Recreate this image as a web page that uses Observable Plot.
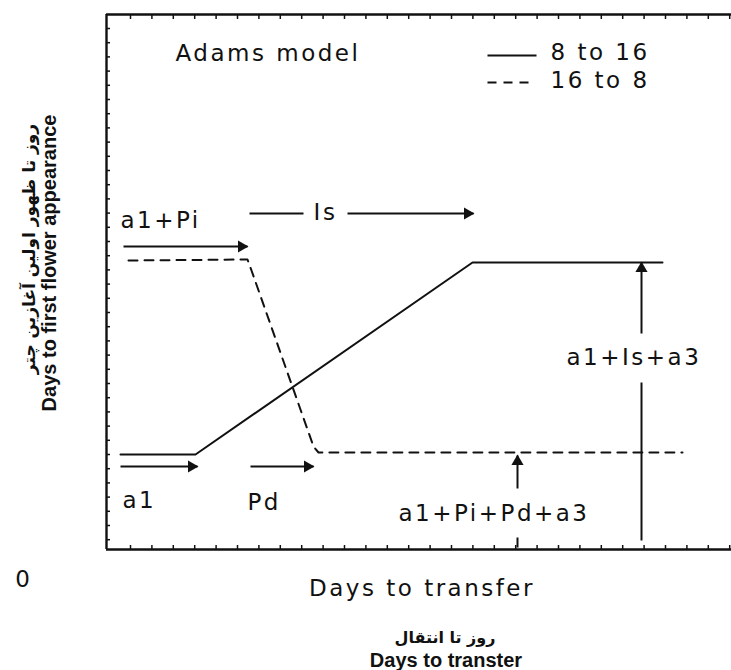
<!DOCTYPE html>
<html><head><meta charset="utf-8">
<script src="https://cdn.jsdelivr.net/npm/d3@7"></script>
<script src="https://cdn.jsdelivr.net/npm/@observablehq/plot@0.6"></script>
<style>
body{margin:0;background:#fff;}
g[aria-description="spaced"] text{letter-spacing:2.5px;}
</style></head><body><div id="chart"></div>
<script>
// Series (schematic)
const seriesNames = ["8 to 16", "16 to 8"];
const solidX = [2.8, 17.8, 73.2, 111.2];
const solidY = [19, 19, 57.4, 57.4];
const dashedX = [4.4, 28.2, 29, 41.4, 42.4, 115.2];
const dashedY = [57.8, 58, 55.8, 20.6, 19.4, 19.4];

// Horizontal arrows
const hArrowNames = ["a1+Pi", "Is", "a1", "Pd"];
const hArrowX1 = [3.4, 48.2, 2.8, 28.8];
const hArrowX2 = [28.2, 73.4, 18.2, 41.4];
const hArrowY = [60.6, 67.2, 16.6, 16.6];
// Vertical arrows
const vArrowNames = ["a1+Pi+Pd+a3", "a1+Is+a3"];
const vArrowX = [82.2, 107];
const vArrowY1 = [12.2, 43.2];
const vArrowY2 = [18.8, 57.4];
// Plain segments (no head)
const segX1 = [28.6, 107, 82.2];
const segX2 = [39.4, 107, 82.2];
const segY1 = [67.2, 1.8, 0.4];
const segY2 = [67.2, 33.4, 2.4];

// Annotation labels
const labelText = ["Adams model", "a1+Pi", "Is", "a1", "Pd", "a1+Pi+Pd+a3", "a1+Is+a3"];
const labelX = [13.8, 2.8, 43.8, 3.2, 28.2, 58.4, 92];
const labelY = [99.2, 65.8, 67.4, 9.8, 9.4, 7.2, 38.4];
const labelAnchor = ["start", "start", "middle", "start", "start", "start", "start"];

// Legend
const legendX1 = [76.2, 76.2];
const legendX2 = [86, 85];
const legendY = [98.8, 93.4];
const legendTextX = [88.8, 88.8];
const legendTextY = [99.4, 93.8];

// Axis titles
const xTitle = "Days to transfer";
const xTitleFa = "روز تا انتقال";
const xTitleEn2 = "Days to transter";
const yTitleFa = "روز تا ظهور اولین آغازین چتر";
const yTitleEn = "Days to first flower appearance";
const originLabel = "0";

// Minor tick positions
const xTicks = d3.range(4.8, 125, 4.28);
const yTicks = d3.range(104.2, 0.5, -2.84);

const solid = solidX.map((x, i) => ({x, y: solidY[i]}));
const dashed = dashedX.map((x, i) => ({x, y: dashedY[i]}));
const hArrows = hArrowNames.map((n, i) => ({n, x1: hArrowX1[i], x2: hArrowX2[i], y: hArrowY[i]}));
const vArrows = vArrowNames.map((n, i) => ({n, x: vArrowX[i], y1: vArrowY1[i], y2: vArrowY2[i]}));
const segs = segX1.map((x1, i) => ({x1, x2: segX2[i], y1: segY1[i], y2: segY2[i]}));
const labels = labelText.map((t, i) => ({t, x: labelX[i], y: labelY[i], a: labelAnchor[i]}));
const legend = seriesNames.map((s, i) => ({s, x1: legendX1[i], x2: legendX2[i], y: legendY[i], tx: legendTextX[i], ty: legendTextY[i]}));

const ink = "#111";
const W = 731, H = 670, mL = 106, mR = 0, mT = 14, mB = 121;
const fw = W - mL - mR, fh = H - mT - mB;
const txtFont = "DejaVu Sans";

const chart = Plot.plot({
  width: W, height: H,
  marginLeft: mL, marginRight: mR, marginTop: mT, marginBottom: mB,
  x: {domain: [0, 125], axis: null},
  y: {domain: [0, 107], axis: null},
  style: {background: "#fff", color: ink},
  marks: [
    // minor ticks
    Plot.ruleX(xTicks, {x: d => d, insetBottom: fh - 5, stroke: ink, strokeWidth: 1.5}),
    Plot.ruleX(xTicks, {x: d => d, insetTop: fh - 4, stroke: ink, strokeWidth: 1.5}),
    Plot.ruleY(yTicks, {y: d => d, insetRight: fw - 4, stroke: ink, strokeWidth: 1.5}),
    // frame
    Plot.ruleY([0, 107], {stroke: ink, strokeWidth: 2.6}),
    Plot.ruleX([0], {stroke: ink, strokeWidth: 2.4}),
    // series
    Plot.line(solid, {x: "x", y: "y", stroke: ink, strokeWidth: 2}),
    Plot.line(dashed, {x: "x", y: "y", stroke: ink, strokeWidth: 2, strokeDasharray: "9,7"}),
    // arrows
    Plot.link(hArrows, {x1: "x1", x2: "x2", y1: "y", y2: "y", stroke: ink, strokeWidth: 2}),
    Plot.dot(hArrows, {x: "x2", y: "y", symbol: "triangle", r: 4.5, rotate: 90, fill: ink, dx: -6}),
    Plot.link(vArrows, {x1: "x", x2: "x", y1: "y1", y2: "y2", stroke: ink, strokeWidth: 2}),
    Plot.dot(vArrows, {x: "x", y: "y2", symbol: "triangle", r: 4.5, fill: ink, dy: 6}),
    Plot.link(segs, {x1: "x1", x2: "x2", y1: "y1", y2: "y2", stroke: ink, strokeWidth: 2}),
    // legend
    Plot.link(legend.slice(0, 1), {x1: "x1", x2: "x2", y1: "y", y2: "y", stroke: ink, strokeWidth: 2}),
    Plot.link(legend.slice(1), {x1: "x1", x2: "x2", y1: "y", y2: "y", stroke: ink, strokeWidth: 2, strokeDasharray: "9,7"}),
    Plot.text(legend, {x: "tx", y: "ty", text: "s", textAnchor: "start", fontSize: 23, fontFamily: txtFont, fill: ink, ariaDescription: "spaced"}),
    // annotations
    Plot.text(labels.filter(d => d.a === "start"), {x: "x", y: "y", text: "t", textAnchor: "start", fontSize: 23, fontFamily: txtFont, fill: ink, ariaDescription: "spaced"}),
    Plot.text(labels.filter(d => d.a === "middle"), {x: "x", y: "y", text: "t", textAnchor: "middle", fontSize: 23, fontFamily: txtFont, fill: ink, ariaDescription: "spaced"}),
    // axis titles
    Plot.text([originLabel], {frameAnchor: "bottom-left", textAnchor: "middle", lineAnchor: "middle", dx: -84, dy: 30, fontSize: 23, fontFamily: txtFont, fill: ink}),
    Plot.text([xTitle], {frameAnchor: "bottom", textAnchor: "middle", lineAnchor: "middle", dx: 3, dy: 39, fontSize: 23, fontFamily: txtFont, fill: ink, ariaDescription: "spaced"}),
    Plot.text([xTitleFa], {frameAnchor: "bottom", textAnchor: "middle", lineAnchor: "middle", dx: 26, dy: 88, fontSize: 16, fontWeight: "bold", fontFamily: "DejaVu Sans", fill: ink}),
    Plot.text([xTitleEn2], {frameAnchor: "bottom", textAnchor: "middle", lineAnchor: "middle", dx: 27, dy: 111, fontSize: 20, fontWeight: "bold", fontFamily: "Liberation Sans", fill: ink}),
    Plot.text([yTitleFa], {frameAnchor: "left", textAnchor: "middle", lineAnchor: "middle", dx: -77, dy: -33, rotate: -90, fontSize: 17, fontWeight: "bold", fontFamily: "DejaVu Sans", fill: ink}),
    Plot.text([yTitleEn], {frameAnchor: "left", textAnchor: "middle", lineAnchor: "middle", dx: -57, dy: -19, rotate: -90, fontSize: 20, fontWeight: "bold", fontFamily: "Liberation Sans", fill: ink})
  ]
});
document.getElementById("chart").appendChild(chart);
</script></body></html>
